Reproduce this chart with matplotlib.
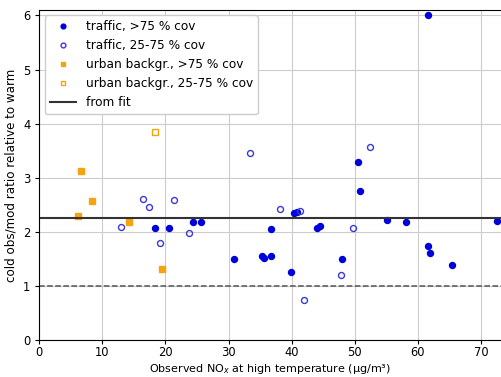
import matplotlib
matplotlib.use("Agg")
import matplotlib.pyplot as plt

# traffic stations, >75 % coverage
traffic_hi_x = [18.4, 20.5, 24.4, 25.6, 30.9, 35.3, 35.7, 36.8, 36.7, 40.4, 40.8, 39.9,
                44.0, 44.5, 48.0, 50.6, 50.9, 55.1, 58.2, 61.7, 61.6, 61.9, 65.4, 72.5]
traffic_hi_y = [2.08, 2.08, 2.19, 2.19, 1.50, 1.56, 1.52, 1.55, 2.05, 2.34, 2.36, 1.26,
                2.07, 2.11, 1.50, 3.29, 2.76, 2.21, 2.18, 6.00, 1.74, 1.61, 1.38, 2.20]

# traffic stations, 25-75 % coverage
traffic_mid_x = [12.9, 16.4, 17.4, 19.2, 21.3, 23.7, 33.4, 38.1, 41.4, 42.0, 47.8, 49.8, 52.4]
traffic_mid_y = [2.09, 2.60, 2.46, 1.79, 2.58, 1.98, 3.46, 2.42, 2.39, 0.74, 1.20, 2.08, 3.57]

# urban background
urban_hi_x = [6.2, 6.6, 8.3, 14.2, 19.5]
urban_hi_y = [2.29, 3.12, 2.57, 2.18, 1.31]
urban_mid_x = [18.4]
urban_mid_y = [3.84]

fit_value = 2.25

fig = plt.figure(figsize=(5.01, 3.77), dpi=100)
ax = fig.add_axes([0.0784, 0.098, 0.9216, 0.8755])

blue = "#0000dd"
blue_open = "#3a3ad8"
orange = "#f5a30f"

ax.plot(traffic_hi_x, traffic_hi_y, "o", color=blue, ms=4.3, ls="none",
        label="traffic, >75 % cov")
ax.plot(traffic_mid_x, traffic_mid_y, "o", mfc="none", mec=blue_open, mew=1.0, ms=4.3,
        ls="none", label="traffic, 25-75 % cov")
ax.plot(urban_hi_x, urban_hi_y, "s", color=orange, ms=4.0, ls="none",
        label="urban backgr., >75 % cov")
ax.plot(urban_mid_x, urban_mid_y, "s", mfc="none", mec=orange, mew=1.0, ms=4.0,
        ls="none", label="urban backgr., 25-75 % cov")
ax.axhline(fit_value, color="#333333", lw=1.5, label="from fit")
ax.axhline(1.0, color="#555555", lw=1.1, ls="--")

ax.set_xlim(0, 73.2)
ax.set_ylim(0, 6.1)
ax.set_yticks(range(0, 7))
ax.set_xticks(range(0, 80, 10))
ax.grid(True, color="#cccccc", lw=0.8)
ax.set_axisbelow(True)
ax.spines["right"].set_visible(False)
ax.tick_params(labelsize=8.3, length=3)
ax.tick_params(axis="x", pad=1.5)

ax.set_xlabel(r"Observed NO$_x$ at high temperature (µg/m³)", fontsize=8.0)
ax.set_ylabel("cold obs/mod ratio relative to warm", fontsize=8.6, labelpad=4)
# put the label baseline just above the bottom edge, under the tick labels
ax.xaxis.set_label_coords(0.5, -0.097)
ax.xaxis.label.set_va("baseline")

ax.legend(loc="upper left", fontsize=8.7, handlelength=2.2, borderaxespad=0.45,
          markerscale=0.8, framealpha=1.0)

fig.savefig("out.png", dpi=100)
